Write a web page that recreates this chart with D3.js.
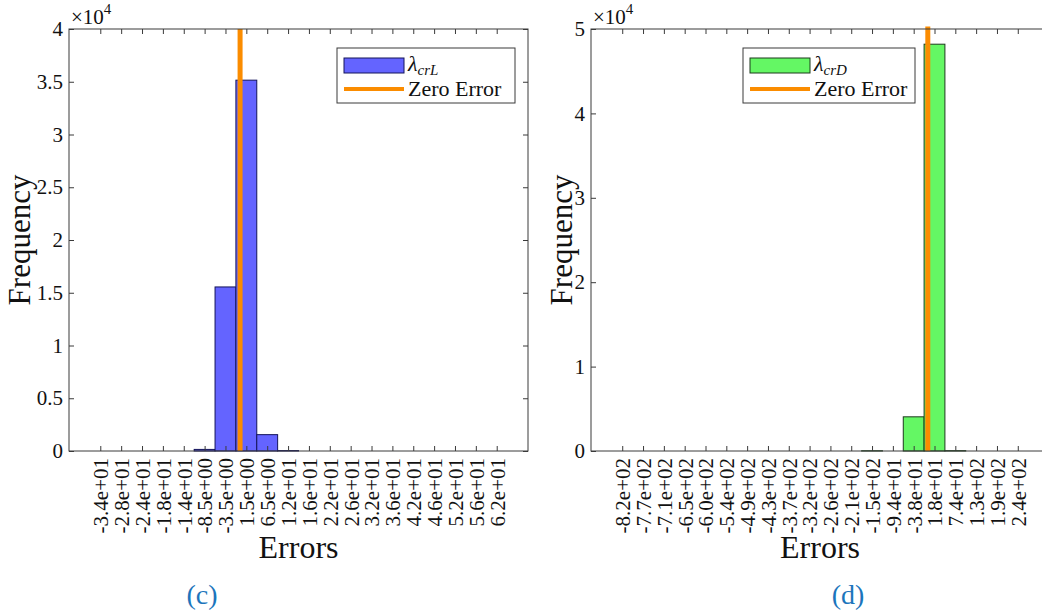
<!DOCTYPE html>
<html>
<head>
<meta charset="utf-8">
<script src="https://cdn.jsdelivr.net/npm/d3@7"></script>
<style>
  html, body { margin: 0; padding: 0; background: #fff; }
  svg { display: block; font-family: "Liberation Serif", "Times New Roman", serif; }
</style>
</head>
<body>
<svg id="chart" width="1042" height="613"></svg>
<script>
// Histogram of lift-coefficient errors (panel c)
const binWidthL = 5;
const binCentersL = [-33.5, -28.5, -23.5, -18.5, -13.5, -8.5, -3.5, 1.5, 6.5, 11.5,
                     16.5, 21.5, 26.5, 31.5, 36.5, 41.5, 46.5, 51.5, 56.5, 61.5];
const countsL = [0, 0, 0, 0, 0, 150, 15550, 35150, 1550, 40,
                 0, 0, 0, 0, 0, 0, 0, 0, 0, 0];
const tickLabelsL = ["-3.4e+01", "-2.8e+01", "-2.4e+01", "-1.8e+01", "-1.4e+01", "-8.5e+00",
                     "-3.5e+00", "1.5e+00", "6.5e+00", "1.2e+01", "1.6e+01", "2.2e+01",
                     "2.6e+01", "3.2e+01", "3.6e+01", "4.2e+01", "4.6e+01", "5.2e+01",
                     "5.6e+01", "6.2e+01"];
const yTicksL = [0, 5000, 10000, 15000, 20000, 25000, 30000, 35000, 40000];
const yMaxL = 40000;
const zeroLineTopL = 40000;

// Histogram of drag-coefficient errors (panel d)
const binWidthD = 56;
const binCentersD = [-822, -766, -710, -654, -598, -542, -486, -430, -374, -318,
                     -262, -206, -150, -94, -38, 18, 74, 130, 186, 242];
const countsD = [0, 0, 0, 0, 0, 0, 0, 0, 0, 0,
                 0, 0, 30, 0, 4050, 48200, 40, 0, 0, 0];
const tickLabelsD = ["-8.2e+02", "-7.7e+02", "-7.1e+02", "-6.5e+02", "-6.0e+02", "-5.4e+02",
                     "-4.9e+02", "-4.3e+02", "-3.7e+02", "-3.2e+02", "-2.6e+02", "-2.1e+02",
                     "-1.5e+02", "-9.4e+01", "-3.8e+01", "1.8e+01", "7.4e+01", "1.3e+02",
                     "1.9e+02", "2.4e+02"];
const yTicksD = [0, 10000, 20000, 30000, 40000, 50000];
const yMaxD = 50000;
const zeroLineTopD = 50300;

const svg = d3.select("#chart");
const axisColor = "#3a3a3a";
const orange = "#fb8c00";
const serif = "'Liberation Serif', 'Times New Roman', serif";

function drawPanel(cfg) {
  const { left, right, top, bottom } = cfg;
  const centers = cfg.centers, w = cfg.binWidth;
  const x = d3.scaleLinear()
    .domain([centers[0] - 1.5 * w, centers[centers.length - 1] + 1.5 * w])
    .range([left, right]);
  const y = d3.scaleLinear().domain([0, cfg.yMax]).range([bottom, top]);

  const g = svg.append("g");

  // bars
  g.selectAll("rect.bar")
    .data(cfg.counts.map((c, i) => ({ c, x: centers[i] })))
    .join("rect")
    .attr("class", "bar")
    .attr("x", d => x(d.x - w / 2))
    .attr("width", d => x(d.x + w / 2) - x(d.x - w / 2))
    .attr("y", d => y(d.c))
    .attr("height", d => y(0) - y(d.c))
    .attr("fill", cfg.fill)
    .attr("stroke", cfg.edge)
    .attr("stroke-width", 1);

  // zero-error reference line
  g.append("line")
    .attr("x1", x(0)).attr("x2", x(0))
    .attr("y1", y(0)).attr("y2", y(cfg.zeroTop))
    .attr("stroke", orange)
    .attr("stroke-width", 5);

  // axes with inward ticks
  const fmtY = d => d3.format("~g")(d / 10000);
  const xb = g.append("g").attr("transform", `translate(0,${bottom})`)
    .call(d3.axisBottom(x).tickValues(centers).tickFormat((d, i) => cfg.labels[i]).tickSize(-5).tickSizeOuter(0));
  xb.selectAll("text")
    .attr("y", 0).attr("x", -7).attr("dy", "0.35em")
    .attr("transform", "rotate(-90)")
    .style("text-anchor", "end")
    .style("font-size", "21px");
  g.append("g").attr("transform", `translate(0,${top})`)
    .call(d3.axisTop(x).tickValues(centers).tickFormat("").tickSize(-5).tickSizeOuter(0));
  const yl = g.append("g").attr("transform", `translate(${left},0)`)
    .call(d3.axisLeft(y).tickValues(cfg.yTicks).tickFormat(fmtY).tickSize(-5).tickSizeOuter(0).tickPadding(6));
  yl.selectAll("text").style("font-size", "21px");
  g.append("g").attr("transform", `translate(${right},0)`)
    .call(d3.axisRight(y).tickValues(cfg.yTicks).tickFormat("").tickSize(-5).tickSizeOuter(0));
  g.selectAll(".domain").remove();
  g.selectAll(".tick line").attr("stroke", axisColor);
  g.selectAll(".tick text").attr("fill", "#111").style("font-family", serif);

  // frame
  g.append("rect")
    .attr("x", left).attr("y", top)
    .attr("width", right - left).attr("height", bottom - top)
    .attr("fill", "none").attr("stroke", axisColor).attr("stroke-width", 1);

  // exponent marker
  const ex = g.append("text").attr("x", left + 2).attr("y", top - 5)
    .attr("fill", "#111").style("font-size", "21px");
  ex.append("tspan").text("×10");
  ex.append("tspan").attr("dy", -10).style("font-size", "15px").text("4");

  // axis titles
  g.append("text")
    .attr("transform", `translate(${cfg.yLabelX},${(top + bottom) / 2}) rotate(-90)`)
    .attr("text-anchor", "middle").attr("fill", "#111")
    .style("font-size", "31px").text("Frequency");
  g.append("text")
    .attr("x", (left + right) / 2).attr("y", 558)
    .attr("text-anchor", "middle").attr("fill", "#111")
    .style("font-size", "32px").text("Errors");

  // panel tag
  g.append("text")
    .attr("x", cfg.tagX).attr("y", 604)
    .attr("text-anchor", "middle").attr("fill", "#1c75bc")
    .style("font-size", "28px").text(cfg.tag);

  // legend
  const L = cfg.legend;
  const lg = g.append("g");
  lg.append("rect")
    .attr("x", L.x).attr("y", L.y).attr("width", L.w).attr("height", 55)
    .attr("fill", "#fff").attr("stroke", axisColor).attr("stroke-width", 1);
  lg.append("rect")
    .attr("x", L.x + 7).attr("y", L.y + 10).attr("width", 60).attr("height", 15)
    .attr("fill", cfg.fill).attr("stroke", cfg.edge).attr("stroke-width", 1);
  lg.append("line")
    .attr("x1", L.x + 7).attr("x2", L.x + 67)
    .attr("y1", L.y + 41).attr("y2", L.y + 41)
    .attr("stroke", orange).attr("stroke-width", 4);
  const t1 = lg.append("text").attr("x", L.x + 71).attr("y", L.y + 23)
    .attr("fill", "#111").style("font-size", "22px");
  t1.append("tspan").style("font-style", "italic").text("λ");
  t1.append("tspan").attr("dy", 4).style("font-size", "15px").style("font-style", "italic").text(cfg.sub);
  lg.append("text").attr("x", L.x + 71).attr("y", L.y + 48)
    .attr("fill", "#111").style("font-size", "22px").text("Zero Error");
}

drawPanel({
  left: 69, right: 528, top: 29, bottom: 451,
  centers: binCentersL, binWidth: binWidthL, counts: countsL, labels: tickLabelsL,
  yTicks: yTicksL, yMax: yMaxL, zeroTop: zeroLineTopL,
  fill: "#6464ff", edge: "#14145a",
  yLabelX: 30, tagX: 202, tag: "(c)", sub: "crL",
  legend: { x: 337, y: 48, w: 178 }
});

drawPanel({
  left: 591, right: 1049, top: 29, bottom: 451,
  centers: binCentersD, binWidth: binWidthD, counts: countsD, labels: tickLabelsD,
  yTicks: yTicksD, yMax: yMaxD, zeroTop: zeroLineTopD,
  fill: "#64f764", edge: "#1d3a1d",
  yLabelX: 572, tagX: 848, tag: "(d)", sub: "crD",
  legend: { x: 743, y: 48, w: 172 }
});
</script>
</body>
</html>
